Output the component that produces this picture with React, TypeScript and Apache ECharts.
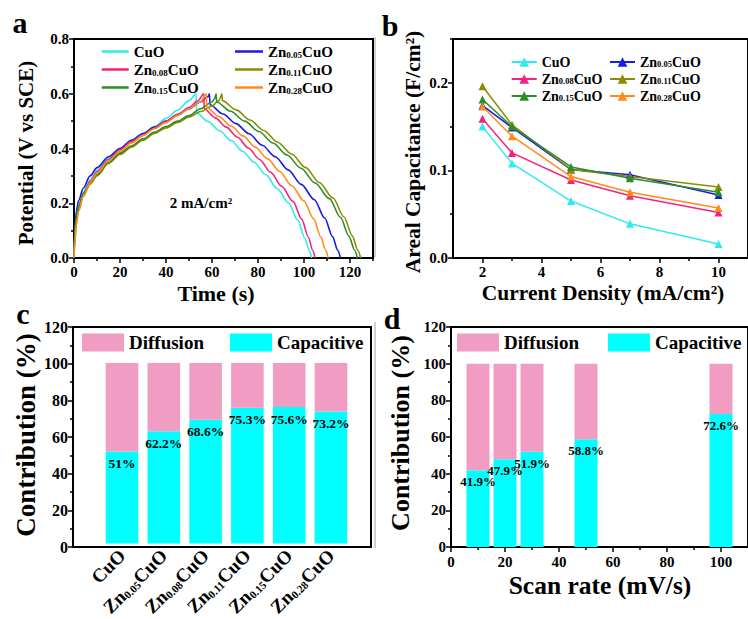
import React, { useEffect, useRef } from 'react';
import * as echarts from 'echarts';

const FONT = "'Liberation Serif', 'Times New Roman', serif";

// Samples and their line colours
const samples = ['CuO', 'Zn0.05CuO', 'Zn0.08CuO', 'Zn0.11CuO', 'Zn0.15CuO', 'Zn0.28CuO'];
const dopingLevels = ['', '0.05', '0.08', '0.11', '0.15', '0.28'];
const sampleColors = ['#2EEBF0', '#1A1AE6', '#F5237D', '#8C8C00', '#2A8F2A', '#FF8C1A'];

// (a) Galvanostatic charge/discharge at 2 mA/cm2: [time (s), potential (V vs SCE)]
const gcdCuO = [
  [0, 0], [0.3, 0.08], [1, 0.15], [2, 0.19], [4, 0.24], [7, 0.285], [10, 0.32], [15, 0.365],
  [20, 0.4], [25, 0.43], [30, 0.455], [35, 0.48], [40, 0.51], [45, 0.54], [50, 0.575], [53.1, 0.6],
  [53.3, 0.53], [58.3, 0.498], [63.3, 0.465], [68.3, 0.429], [73.3, 0.39], [78.3, 0.35], [83.3, 0.305],
  [88.3, 0.254], [93.3, 0.201], [97.3, 0.138], [100.3, 0.074], [102.3, 0.027], [103.3, 0],
];
const gcdZn005 = [
  [0, 0], [0.3, 0.1], [1, 0.17], [2, 0.21], [4, 0.255], [7, 0.3], [10, 0.33], [15, 0.37],
  [20, 0.4], [25, 0.43], [30, 0.455], [35, 0.478], [40, 0.5], [45, 0.522], [50, 0.545], [55, 0.57],
  [58.3, 0.59], [58.9, 0.6],
  [59.1, 0.56], [64.8, 0.526], [70.4, 0.491], [76.1, 0.454], [81.8, 0.412], [87.5, 0.37], [93.1, 0.322],
  [98.8, 0.269], [104.5, 0.213], [109, 0.146], [112.4, 0.078], [114.7, 0.028], [115.8, 0],
];
const gcdZn008 = [
  [0, 0], [0.3, 0.07], [1, 0.14], [2, 0.18], [4, 0.235], [7, 0.28], [10, 0.315], [15, 0.36],
  [20, 0.395], [25, 0.425], [30, 0.45], [35, 0.475], [40, 0.5], [45, 0.525], [50, 0.55], [54, 0.575],
  [56.4, 0.6],
  [56.6, 0.545], [61.4, 0.512], [66.2, 0.478], [71.1, 0.441], [75.9, 0.401], [80.7, 0.36], [85.5, 0.313],
  [90.3, 0.262], [95.2, 0.207], [99, 0.142], [101.9, 0.076], [103.8, 0.027], [104.8, 0],
];
const gcdZn011 = [
  [0, 0], [0.3, 0.06], [1, 0.13], [2, 0.175], [4, 0.225], [7, 0.27], [10, 0.3], [15, 0.345],
  [20, 0.378], [25, 0.405], [30, 0.43], [35, 0.455], [40, 0.475], [45, 0.495], [50, 0.515], [55, 0.535],
  [60, 0.555], [63, 0.575], [63.6, 0.585], [64.3, 0.6],
  [64.5, 0.575], [70.5, 0.541], [76.5, 0.504], [82.5, 0.466], [88.5, 0.423], [94.6, 0.38], [100.6, 0.331],
  [106.6, 0.276], [112.6, 0.219], [117.4, 0.15], [121, 0.081], [123.4, 0.029], [124.6, 0],
];
const gcdZn015 = [
  [0, 0], [0.3, 0.09], [1, 0.15], [2, 0.19], [4, 0.235], [7, 0.275], [10, 0.305], [15, 0.35],
  [20, 0.383], [25, 0.41], [30, 0.435], [35, 0.46], [40, 0.48], [45, 0.5], [50, 0.52], [55, 0.545],
  [60, 0.57], [61.1, 0.582], [61.8, 0.6],
  [62, 0.57], [68.1, 0.536], [74.2, 0.5], [80.4, 0.462], [86.5, 0.42], [92.6, 0.376], [98.7, 0.328],
  [104.8, 0.274], [111, 0.217], [115.9, 0.148], [119.5, 0.08], [122, 0.029], [123.2, 0],
];
const gcdZn028 = [
  [0, 0], [0.3, 0.05], [1, 0.12], [2, 0.17], [4, 0.225], [7, 0.275], [10, 0.31], [15, 0.355],
  [20, 0.39], [25, 0.42], [30, 0.447], [35, 0.472], [40, 0.495], [45, 0.52], [50, 0.545], [55, 0.57],
  [57.5, 0.6],
  [57.7, 0.55], [63, 0.517], [68.3, 0.482], [73.5, 0.446], [78.8, 0.405], [84.1, 0.363], [89.4, 0.316],
  [94.7, 0.264], [99.9, 0.209], [104.2, 0.143], [107.3, 0.077], [109.4, 0.028], [110.5, 0],
];
const gcdCurves = [gcdCuO, gcdZn005, gcdZn008, gcdZn011, gcdZn015, gcdZn028];

// (b) Areal capacitance (F/cm2) vs current density (mA/cm2)
const currentDensity = [2, 3, 5, 7, 10];
const capCuO = [0.150, 0.108, 0.065, 0.039, 0.016];
const capZn005 = [0.174, 0.149, 0.101, 0.095, 0.072];
const capZn008 = [0.159, 0.120, 0.089, 0.071, 0.052];
const capZn011 = [0.196, 0.152, 0.101, 0.093, 0.081];
const capZn015 = [0.181, 0.150, 0.104, 0.091, 0.075];
const capZn028 = [0.173, 0.139, 0.093, 0.075, 0.057];
const rateCurves = [capCuO, capZn005, capZn008, capZn011, capZn015, capZn028];

// (c) Capacitive / diffusion contribution per sample (%)
const capacitiveBySample = [51, 62.2, 68.6, 75.3, 75.6, 73.2];
const diffusionBySample = [49, 37.8, 31.4, 24.7, 24.4, 26.8];

// (d) Capacitive / diffusion contribution vs scan rate (mV/s)
const scanRates = [10, 20, 30, 50, 100];
const capacitiveByRate = [41.9, 47.9, 51.9, 58.8, 72.6];
const diffusionByRate = [58.1, 52.1, 48.1, 41.2, 27.4];

// Tick positions
const timeTicks = [0, 20, 40, 60, 80, 100, 120];
const timeMinor = [10, 30, 50, 70, 90, 110, 130];
const potentialTicks = [0, 0.2, 0.4, 0.6, 0.8];
const potentialMinor = [0.1, 0.3, 0.5, 0.7];
const densityTicks = [2, 4, 6, 8, 10];
const densityMinor = [3, 5, 7, 9];
const capTicks = [0, 0.1, 0.2];
const capMinor = [0.05, 0.15, 0.25];
const percentTicks = [0, 20, 40, 60, 80, 100, 120];
const percentMinor = [10, 30, 50, 70, 90, 110];
const scanTicks = [0, 20, 40, 60, 80, 100];
const scanMinor = [10, 30, 50, 70, 90];

const DIFF_COLOR = '#F19CC2';
const CAP_COLOR = '#00FFFF';

const richName = (i: number) =>
  dopingLevels[i] ? `{m|Zn}{s|${dopingLevels[i]}}{m|CuO}` : '{m|CuO}';

const bold = { fontFamily: FONT, fontWeight: 'bold' as const, color: '#000' };

function mainAxis(gridIndex: number, min: number, max: number, ticks: number[], opts: any = {}) {
  return {
    gridIndex, type: 'value', min, max,
    axisLine: { show: true, onZero: false, lineStyle: { color: '#000', width: 2 } },
    axisTick: { show: true, inside: false, length: 5, lineStyle: { color: '#000', width: 1.5 }, customValues: ticks },
    axisLabel: { ...bold, fontSize: 15, margin: 5, customValues: ticks, ...(opts.axisLabel || {}) },
    splitLine: { show: false },
    ...(opts.extra || {}),
  };
}
function minorAxis(gridIndex: number, min: number, max: number, ticks: number[], extra: any = {}) {
  return {
    gridIndex, type: 'value', min, max,
    axisLine: { show: false, onZero: false },
    axisTick: { show: true, inside: false, length: 3, lineStyle: { color: '#000', width: 1.5 }, customValues: ticks },
    axisLabel: { show: false },
    splitLine: { show: false },
    ...extra,
  };
}

const frame = { show: true, borderColor: '#000', borderWidth: 2, backgroundColor: 'transparent' };

function text(x: number, y: number, str: string, size: number, rotate = false) {
  return {
    type: 'text', x, y, rotation: rotate ? Math.PI / 2 : 0,
    style: {
      text: str, fill: '#000', font: `bold ${size}px ${FONT}`,
      textAlign: 'center', textVerticalAlign: 'middle', align: 'center', verticalAlign: 'middle',
    },
  };
}

export default function App() {
  const ref = useRef<HTMLDivElement>(null);

  useEffect(() => {
    if (!ref.current) return;
    const chart = echarts.init(ref.current, null, { renderer: 'svg' });

    const legendRichA = {
      m: { ...bold, fontSize: 15, lineHeight: 15 },
      s: { ...bold, fontSize: 9, lineHeight: 15, verticalAlign: 'bottom' },
    };
    const legendRichB = {
      m: { ...bold, fontSize: 14, lineHeight: 13 },
      s: { ...bold, fontSize: 8.5, lineHeight: 13, verticalAlign: 'bottom' },
    };

    const gcdSeries = samples.map((s, i) => ({
      name: `${s} (GCD)`, type: 'line', xAxisIndex: 0, yAxisIndex: 0,
      data: gcdCurves[i], showSymbol: false, symbol: 'none',
      smooth: 0.3, smoothMonotone: 'x',
      lineStyle: { color: sampleColors[i], width: 1.6 },
      itemStyle: { color: sampleColors[i] },
    }));
    const rateSeries = samples.map((s, i) => ({
      name: `${s} (rate)`, type: 'line', xAxisIndex: 2, yAxisIndex: 2,
      data: currentDensity.map((x, k) => [x, rateCurves[i][k]]),
      symbol: 'triangle', symbolSize: 8,
      lineStyle: { color: sampleColors[i], width: 1.5 },
      itemStyle: { color: sampleColors[i] },
    }));

    const idx = (names: string[], suffix: string) =>
      names.map((n) => `${n} (${suffix})`);
    const nameToRich = (name: string) => {
      const base = name.replace(/ \((GCD|rate)\)$/, '');
      return richName(samples.indexOf(base));
    };

    const barLabel = (fmt: (p: any) => string, size: number) => ({
      show: true, position: 'insideTop', distance: 5, formatter: fmt,
      ...bold, fontSize: size,
    });

    const option: any = {
      animation: false,
      backgroundColor: '#fff',
      grid: [
        { left: 74, top: 39, width: 299, height: 219, ...frame },
        { left: 453, top: 39, width: 297.5, height: 219, ...frame },
        { left: 73, top: 327, width: 298, height: 220, ...frame },
        { left: 101.1, top: 327, width: 250.8, height: 220, show: false },
        { left: 451, top: 327, width: 304.7, height: 220, ...frame },
      ],
      xAxis: [
        mainAxis(0, 0, 130, timeTicks, { axisLabel: { margin: 6 }, extra: { position: 'bottom' } }),
        minorAxis(0, 0, 130, timeMinor, { position: 'bottom' }),
        mainAxis(1, 1, 11, densityTicks, { axisLabel: { margin: 6 }, extra: { position: 'bottom' } }),
        minorAxis(1, 1, 11, densityMinor, { position: 'bottom' }),
        {
          gridIndex: 2, type: 'value', min: 0, max: 1, position: 'bottom',
          axisLine: { show: true, onZero: false, lineStyle: { color: '#000', width: 2 } },
          axisTick: { show: false }, axisLabel: { show: false }, splitLine: { show: false },
        },
        {
          gridIndex: 3, type: 'category', data: samples, position: 'bottom',
          axisLine: { show: false }, axisTick: { show: false },
          axisLabel: {
            interval: 0, rotate: 45, margin: 9,
            formatter: (v: string) => richName(samples.indexOf(v)),
            rich: {
              m: { ...bold, fontSize: 19 },
              s: { ...bold, fontSize: 11, verticalAlign: 'bottom' },
            },
          },
        },
        mainAxis(4, 0, 110, scanTicks, { axisLabel: { margin: 7 }, extra: { position: 'bottom' } }),
        minorAxis(4, 0, 110, scanMinor, { position: 'bottom' }),
      ],
      yAxis: [
        mainAxis(0, 0, 0.8, potentialTicks, { axisLabel: { formatter: (v: number) => v.toFixed(1) }, extra: { position: 'left' } }),
        minorAxis(0, 0, 0.8, potentialMinor, { position: 'left' }),
        mainAxis(1, 0, 0.25, capTicks, { axisLabel: { formatter: (v: number) => v.toFixed(1) }, extra: { position: 'left' } }),
        minorAxis(1, 0, 0.25, capMinor, { position: 'left' }),
        mainAxis(2, 0, 120, percentTicks, { axisLabel: { fontSize: 16 }, extra: { position: 'left' } }),
        minorAxis(2, 0, 120, percentMinor, { position: 'left' }),
        { gridIndex: 3, type: 'value', min: 0, max: 120, show: false },
        mainAxis(4, 0, 120, percentTicks, { extra: { position: 'left' } }),
        minorAxis(4, 0, 120, percentMinor, { position: 'left' }),
      ],
      legend: [
        {
          left: 101.7, top: 44, padding: 0, orient: 'vertical', icon: 'rect',
          itemWidth: 27, itemHeight: 2.5, itemGap: 3,
          selectedMode: false, data: idx(['CuO', 'Zn0.08CuO', 'Zn0.15CuO'], 'GCD'),
          formatter: nameToRich, textStyle: { rich: legendRichA },
        },
        {
          left: 235, top: 44, padding: 0, orient: 'vertical', icon: 'rect',
          itemWidth: 28, itemHeight: 2.5, itemGap: 3,
          selectedMode: false, data: idx(['Zn0.05CuO', 'Zn0.11CuO', 'Zn0.28CuO'], 'GCD'),
          formatter: nameToRich, textStyle: { rich: legendRichA },
        },
        {
          left: 510.7, top: 55, padding: 0, orient: 'vertical', itemWidth: 25, itemHeight: 12, itemGap: 3,
          selectedMode: false, data: idx(['CuO', 'Zn0.08CuO', 'Zn0.15CuO'], 'rate'),
          formatter: nameToRich, textStyle: { rich: legendRichB },
        },
        {
          left: 609, top: 55, padding: 0, orient: 'vertical', itemWidth: 25, itemHeight: 12, itemGap: 3,
          selectedMode: false, data: idx(['Zn0.05CuO', 'Zn0.11CuO', 'Zn0.28CuO'], 'rate'),
          formatter: nameToRich, textStyle: { rich: legendRichB },
        },
        {
          left: 82, top: 333, width: 320, padding: 0, orient: 'horizontal', itemWidth: 42, itemHeight: 18, itemGap: 26,
          selectedMode: false, icon: 'rect', data: ['Diffusion', 'Capacitive'],
          textStyle: { ...bold, fontSize: 19 },
        },
        {
          left: 457, top: 333, width: 320, padding: 0, orient: 'horizontal', itemWidth: 42, itemHeight: 18, itemGap: 29,
          selectedMode: false, icon: 'rect', data: ['Diffusion', 'Capacitive'],
          textStyle: { ...bold, fontSize: 19 },
        },
      ],
      series: [
        ...gcdSeries,
        ...rateSeries,
        {
          name: 'Capacitive', type: 'bar', xAxisIndex: 5, yAxisIndex: 6, stack: 'sample',
          data: capacitiveBySample, barCategoryGap: '22%', itemStyle: { color: CAP_COLOR },
          label: barLabel((p: any) => `${p.value}%`, 13.5),
        },
        {
          name: 'Diffusion', type: 'bar', xAxisIndex: 5, yAxisIndex: 6, stack: 'sample',
          data: diffusionBySample, barCategoryGap: '22%', itemStyle: { color: DIFF_COLOR },
        },
        // value listed first so that the stack accumulates the contribution, x read from dimension 1
        {
          name: 'Capacitive', type: 'bar', xAxisIndex: 6, yAxisIndex: 7, stack: 'rate',
          data: scanRates.map((r, k) => [capacitiveByRate[k], r]), encode: { x: 1, y: 0 }, barWidth: 23,
          itemStyle: { color: CAP_COLOR },
          label: barLabel((p: any) => `${p.value[0]}%`, 13),
        },
        {
          name: 'Diffusion', type: 'bar', xAxisIndex: 6, yAxisIndex: 7, stack: 'rate',
          data: scanRates.map((r, k) => [diffusionByRate[k], r]), encode: { x: 1, y: 0 }, barWidth: 23,
          itemStyle: { color: DIFF_COLOR },
        },
      ],
      graphic: [
        { type: 'line', shape: { x1: 375, y1: 37, x2: 375, y2: 257 }, style: { stroke: '#A0A0A0', lineWidth: 1 } },
        { type: 'line', shape: { x1: 375, y1: 322, x2: 375, y2: 548 }, style: { stroke: '#A0A0A0', lineWidth: 1 } },
        text(20, 22, 'a', 30),
        text(390, 25, 'b', 30),
        text(23, 313, 'c', 30),
        text(392, 318, 'd', 30),
        text(26, 153, 'Potential (V vs SCE)', 21, true),
        text(216, 293, 'Time (s)', 22),
        text(201, 203, '2 mA/cm²', 15),
        text(413, 152, 'Areal Capacitance (F/cm²)', 21.5, true),
        text(603, 293, 'Current Density (mA/cm²)', 21.5),
        text(26, 435, 'Contribution (%)', 27, true),
        text(400, 433, 'Contribution (%)', 26, true),
        text(600, 585, 'Scan rate (mV/s)', 25.5),
      ],
    };

    chart.setOption(option);
    return () => chart.dispose();
  }, []);

  return (
    <div
      ref={ref}
      style={{ position: 'absolute', left: 0, top: 0, width: 748, height: 619, background: '#fff' }}
    />
  );
}
